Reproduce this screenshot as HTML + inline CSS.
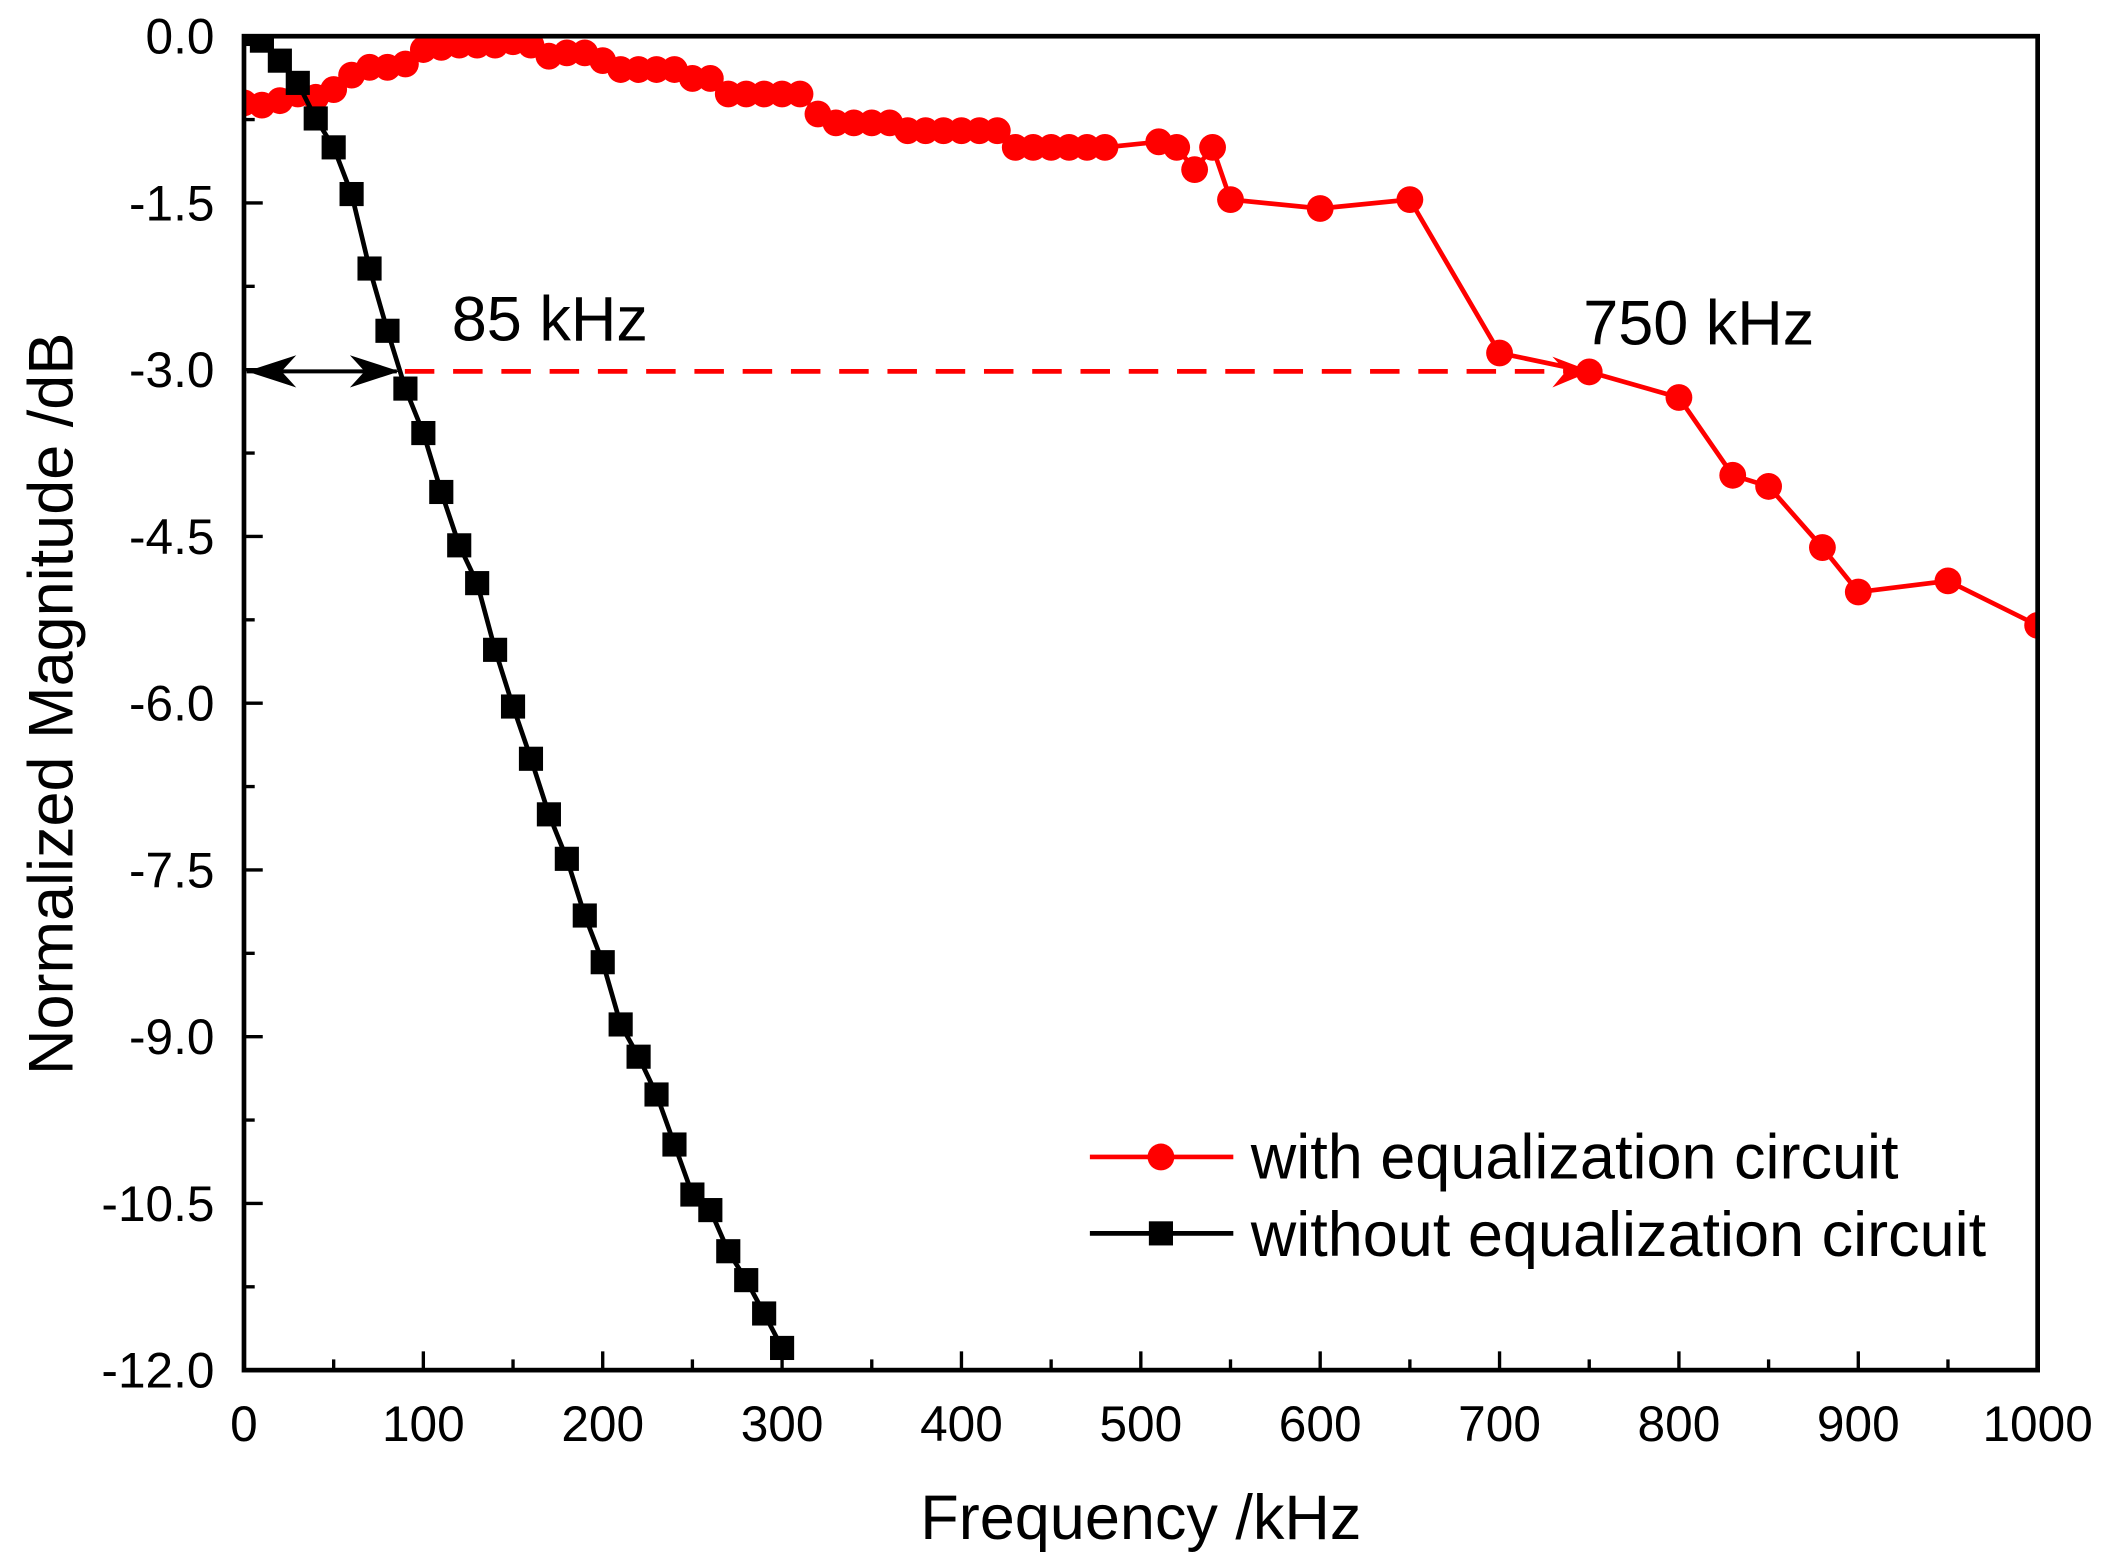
<!DOCTYPE html>
<html><head><meta charset="utf-8"><style>
html,body{margin:0;padding:0;background:#fff;}
svg{display:block;}
text{font-family:"Liberation Sans",Arial,sans-serif;fill:#000;}
</style></head><body>
<svg width="2102" height="1568" viewBox="0 0 1568 1169.6" preserveAspectRatio="none" xmlns="http://www.w3.org/2000/svg">
<defs>
<clipPath id="c"><rect x="182" y="27" width="1338" height="995"/></clipPath>
</defs>
<g id="ticks" stroke="#000" stroke-width="2.5"></g>
<g clip-path="url(#c)">
<polyline id="red" fill="none" stroke="#f00" stroke-width="3.5"/>
<g id="redm" fill="#f00"></g>
<polyline id="blk" fill="none" stroke="#000" stroke-width="3.5"/>
<g id="blkm" fill="#000"></g>
</g>
<line x1="302" y1="277" x2="1175" y2="277" stroke="#f00" stroke-width="3.5" stroke-dasharray="22,14"/>
<path d="M1187,277 L1158,266 L1168,277 L1158,289 Z" fill="#f00"/>
<line x1="184" y1="277" x2="296" y2="277" stroke="#000" stroke-width="3"/>
<path d="M184,277 L221,265 L210,277 L221,289 Z M298,277 L261,265 L272,277 L261,289 Z" fill="#000"/>
<rect x="182" y="27" width="1338" height="995" fill="none" stroke="#000" stroke-width="3.5"/>
<text x="337" y="254" font-size="47">85 kHz</text>
<text x="1181" y="257" font-size="47">750 kHz</text>
<line x1="813" y1="863" x2="920" y2="863" stroke="#f00" stroke-width="3.5"/>
<circle cx="866" cy="863" r="10" fill="#f00"/>
<text x="933" y="879" font-size="47">with equalization circuit</text>
<line x1="813" y1="920" x2="920" y2="920" stroke="#000" stroke-width="3.5"/>
<rect x="857" y="911" width="18" height="18" fill="#000"/>
<text x="933" y="937" font-size="47">without equalization circuit</text>
<g id="ylab" font-size="37" text-anchor="end"></g>
<g id="xlab" font-size="37" text-anchor="middle"></g>
<text x="851" y="1148" font-size="47" text-anchor="middle">Frequency /kHz</text>
<text transform="translate(54,525) rotate(-90)" font-size="47" text-anchor="middle">Normalized Magnitude /dB</text>
</svg>
<script>
var X=f=>182+f*1.338, Y=d=>27-d*82.92;
var red=[[0,-0.6],[10,-0.62],[20,-0.58],[30,-0.52],[40,-0.55],[50,-0.48],[60,-0.35],[70,-0.28],[80,-0.28],[90,-0.25],[100,-0.12],[110,-0.1],[120,-0.08],[130,-0.08],[140,-0.08],[150,-0.05],[160,-0.08],[170,-0.18],[180,-0.15],[190,-0.15],[200,-0.22],[210,-0.3],[220,-0.3],[230,-0.3],[240,-0.3],[250,-0.38],[260,-0.38],[270,-0.52],[280,-0.52],[290,-0.52],[300,-0.52],[310,-0.52],[320,-0.7],[330,-0.78],[340,-0.78],[350,-0.78],[360,-0.78],[370,-0.85],[380,-0.85],[390,-0.85],[400,-0.85],[410,-0.85],[420,-0.85],[430,-1.0],[440,-1.0],[450,-1.0],[460,-1.0],[470,-1.0],[480,-1.0],[510,-0.95],[520,-1.0],[530,-1.2],[540,-1.0],[550,-1.47],[600,-1.55],[650,-1.47],[700,-2.85],[750,-3.02],[800,-3.25],[830,-3.95],[850,-4.05],[880,-4.6],[900,-5.0],[950,-4.9],[1000,-5.3]];
var bv=[0.02,-0.04,-0.22,-0.42,-0.74,-1.0,-1.42,-2.09,-2.65,-3.17,-3.57,-4.1,-4.58,-4.92,-5.52,-6.03,-6.5,-7.0,-7.4,-7.91,-8.33,-8.89,-9.18,-9.52,-9.97,-10.42,-10.56,-10.93,-11.19,-11.49,-11.8];
var NS="http://www.w3.org/2000/svg";
function el(p,t,a){var e=document.createElementNS(NS,t);for(var k in a)e.setAttribute(k,a[k]);document.getElementById(p).appendChild(e);return e;}
document.getElementById('red').setAttribute('points',red.map(p=>X(p[0])+','+Y(p[1])).join(' '));
red.forEach(p=>el('redm','circle',{cx:X(p[0]),cy:Y(p[1]),r:10}));
var blk=bv.map((v,i)=>[i*10,v]);
document.getElementById('blk').setAttribute('points',blk.map(p=>X(p[0])+','+Y(p[1])).join(' '));
blk.forEach(p=>el('blkm','rect',{x:X(p[0])-9,y:Y(p[1])-9,width:18,height:18}));
for(var f=0;f<=1000;f+=50){var maj=f%100==0,L=maj?14:8;
 el('ticks','line',{x1:X(f),x2:X(f),y1:1022,y2:1022-L});
 if(maj){var t=el('xlab','text',{x:X(f),y:1075});t.textContent=f;}}
for(var i=0;i<=16;i++){var d=-0.75*i,maj=i%2==0,L=maj?14:8;
 el('ticks','line',{x1:182,x2:182+L,y1:Y(d),y2:Y(d)});
 if(maj){var t=el('ylab','text',{x:160,y:Y(d)+13});t.textContent=d.toFixed(1);}}
</script>
</body></html>
